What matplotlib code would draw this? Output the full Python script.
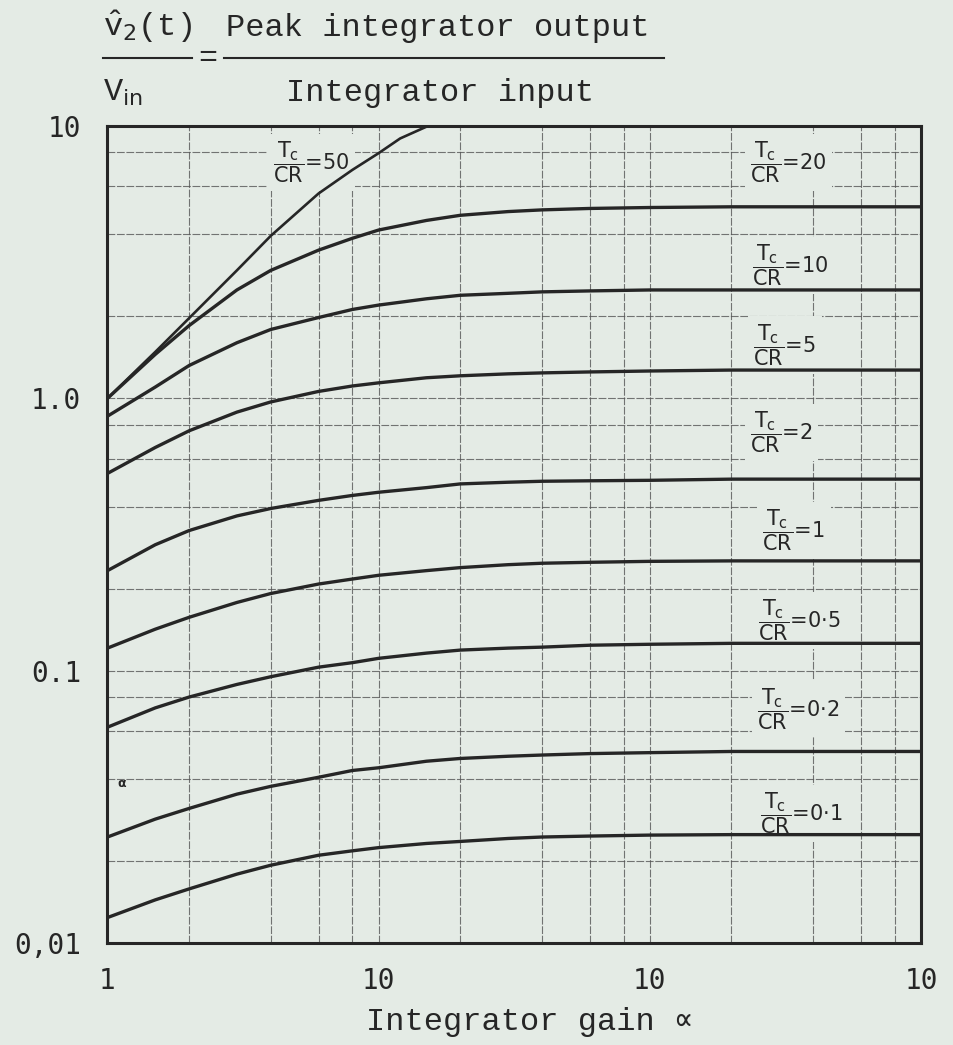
import numpy as np
import matplotlib
matplotlib.use("Agg")
import matplotlib.pyplot as plt
from matplotlib.lines import Line2D

plt.rcParams['mathtext.fontset'] = 'custom'
plt.rcParams['mathtext.rm'] = 'Liberation Mono'
plt.rcParams['mathtext.it'] = 'Liberation Mono'
plt.rcParams['mathtext.sf'] = 'DejaVu Sans'

# ---- data ----
alpha = [1, 1.5, 2, 3, 4, 6, 8, 10, 15, 20, 30, 40, 60, 100, 200, 1000]
alpha_50 = [1, 1.5, 2, 3, 4, 6, 8, 10, 12, 15.2]

ratio_50 = [1.0, 1.48, 1.97, 2.95, 3.95, 5.65, 6.9, 7.95, 9.0, 10.0]
ratio_20 = [1.0, 1.45, 1.85, 2.5, 2.95, 3.5, 3.87, 4.15, 4.5, 4.7, 4.85, 4.92, 4.98, 5.02, 5.05, 5.05]
ratio_10 = [0.86, 1.1, 1.32, 1.6, 1.79, 1.98, 2.12, 2.2, 2.32, 2.39, 2.43, 2.46, 2.48, 2.5, 2.5, 2.5]
ratio_5 = [0.53, 0.66, 0.76, 0.89, 0.97, 1.06, 1.11, 1.14, 1.19, 1.21, 1.23, 1.24, 1.25, 1.26, 1.27, 1.27]
ratio_2 = [0.233, 0.29, 0.327, 0.37, 0.394, 0.422, 0.44, 0.452, 0.47, 0.485, 0.492, 0.496, 0.498, 0.5, 0.505, 0.505]
ratio_1 = [0.121, 0.142, 0.157, 0.178, 0.192, 0.208, 0.217, 0.224, 0.233, 0.239, 0.245, 0.248, 0.25, 0.252, 0.253, 0.253]
ratio_05 = [0.062, 0.073, 0.08, 0.089, 0.095, 0.103, 0.107, 0.111, 0.116, 0.119, 0.121, 0.122, 0.124, 0.125, 0.126, 0.126]
ratio_02 = [0.0245, 0.0285, 0.0312, 0.0352, 0.0376, 0.0406, 0.043, 0.044, 0.0465, 0.0476, 0.0485, 0.049, 0.0496, 0.05, 0.0505, 0.0505]
ratio_01 = [0.0124, 0.0144, 0.0158, 0.0179, 0.0193, 0.021, 0.0218, 0.0224, 0.0232, 0.0236, 0.0242, 0.0245, 0.0247, 0.0249, 0.025, 0.025]

curve_names = ['50', '20', '10', '5', '2', '1', '0·5', '0·2', '0·1']
label_x = [4.08, 235, 239, 241, 235, 260, 251, 249, 254]
label_y = [7.37, 7.37, 3.08, 1.57, 0.75, 0.327, 0.153, 0.0724, 0.030]

xtick_vals = [1, 10, 100, 1000]
xtick_text = ['1', '10', '10', '10']
ytick_vals = [0.01, 0.1, 1, 10]
ytick_text = ['0,01', '0.1', '1.0', '10']

BG = '#e4ebe5'
INK = '#262626'

W, H = 954, 1045
def fx(px):
    return px / W
def fy(py):
    return 1 - py / H

fig = plt.figure(figsize=(W / 100, H / 100), dpi=100, facecolor=BG)
ax = fig.add_axes([fx(107.5), fy(943), (921 - 107.5) / W, (943 - 126) / H])
ax.set_facecolor(BG)
ax.set_xscale('log')
ax.set_yscale('log')
ax.set_xlim(1, 1000)
ax.set_ylim(0.01, 10)

# graph-paper grid at 2,4,6,8 of every decade
ax.set_xticks(xtick_vals)
ax.set_xticklabels(xtick_text)
ax.set_xticks([m * d for d in (1, 10, 100) for m in (2, 4, 6, 8)], minor=True)
ax.set_yticks(ytick_vals)
ax.set_yticklabels(ytick_text)
ax.set_yticks([m * d for d in (0.01, 0.1, 1) for m in (2, 4, 6, 8)], minor=True)
ax.tick_params(which='both', length=0)
ax.tick_params(axis='x', pad=17)
ax.tick_params(axis='y', pad=19)
for lab in ax.get_xticklabels() + ax.get_yticklabels():
    lab.set_fontfamily('DejaVu Sans Mono')
    lab.set_fontsize(20)
    lab.set_color(INK)
ax.grid(which='both', color='#555555', lw=0.8, ls=(0, (7, 1.5)), alpha=0.8)
ax.set_axisbelow(True)
for sp in ax.spines.values():
    sp.set_linewidth(2.2)
    sp.set_color(INK)
    sp.set_zorder(6)

ax.plot(alpha_50, ratio_50, color=INK, lw=1.9, zorder=5)
for ys in [ratio_20, ratio_10, ratio_5, ratio_2, ratio_1, ratio_05, ratio_02, ratio_01]:
    ax.plot(alpha, ys, color=INK, lw=2.4, zorder=5)

for name, lx, ly in zip(curve_names, label_x, label_y):
    ax.text(lx, ly, r'$\dfrac{\mathsf{T}_{\mathsf{c}}}{\mathsf{CR}}$=' + name,
            fontsize=15, family='DejaVu Sans', color=INK, ha='left', va='center',
            zorder=3, bbox=dict(facecolor=BG, edgecolor='none', pad=4))

# stray mark on the sheet
ax.text(1.13, 0.0385, 'α', fontsize=9, fontweight='bold', color=INK, ha='center', va='center')

# ---- title written as a fraction ----
tfont = dict(family='Liberation Mono', fontsize=23, color=INK)
fig.text(fx(103), fy(36), r'$\hat{\mathrm{v}}_{\mathsf{2}}$(t)', ha='left', va='baseline', **tfont)
fig.text(fx(103), fy(101), r'V$_{\mathsf{in}}$', ha='left', va='baseline', **tfont)
fig.text(fx(208), fy(58), '=', ha='center', va='center', **tfont)
fig.text(fx(438), fy(36), 'Peak integrator output', ha='center', va='baseline', **tfont)
fig.text(fx(440), fy(101), 'Integrator input', ha='center', va='baseline', **tfont)
fig.add_artist(Line2D([fx(103), fx(192)], [fy(58), fy(58)], color=INK, lw=1.5))
fig.add_artist(Line2D([fx(224), fx(664)], [fy(58), fy(58)], color=INK, lw=1.5))

fig.text(fx(530), fy(1030), 'Integrator gain ∝', ha='center', va='baseline',
         family=['Liberation Mono', 'DejaVu Sans Mono'], fontsize=23, color=INK)

fig.savefig('out.png', dpi=100, facecolor=BG)
